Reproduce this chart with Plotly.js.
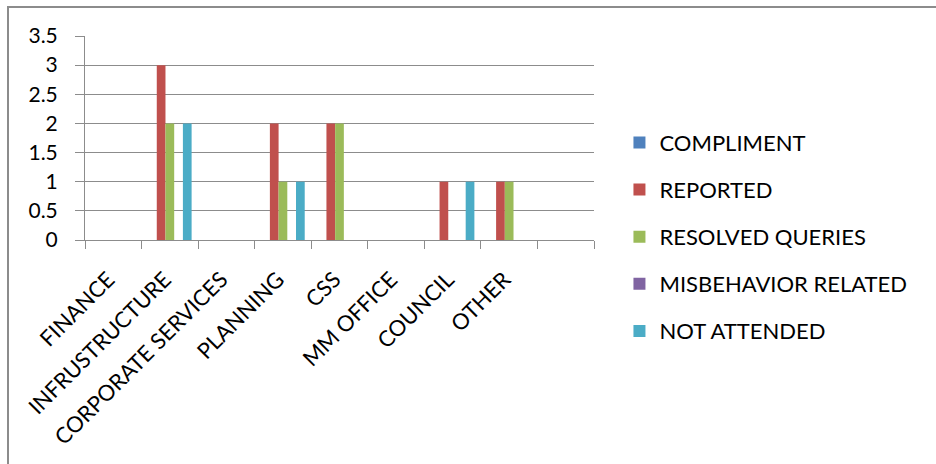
<!DOCTYPE html>
<html>
<head>
<meta charset="utf-8">
<script src="https://cdn.plot.ly/plotly-3.0.1.min.js"></script>
<style>
  html, body { margin: 0; padding: 0; background: #fff; }
  #wrap { position: relative; width: 936px; height: 464px; overflow: hidden; }
  #chart { position: absolute; left: 0; top: 0; width: 936px; height: 464px; }
  #frame { position: absolute; left: 7px; top: 6px; width: 960px; height: 480px;
           border: 2px solid #8c8c8c; box-sizing: border-box; pointer-events: none; }
</style>
</head>
<body>
<div id="wrap">
  <div id="chart"></div>
  <div id="frame"></div>
</div>
<script>
const categories = ["FINANCE", "INFRUSTRUCTURE", "CORPORATE SERVICES", "PLANNING", "CSS", "MM OFFICE", "COUNCIL", "OTHER", " "];
const seriesNames = ["COMPLIMENT", "REPORTED", "RESOLVED QUERIES", "MISBEHAVIOR RELATED", "NOT ATTENDED"];
const compliment  = [0, 0, 0, 0, 0, 0, 0, 0, 0];
const reported    = [0, 3, 0, 2, 2, 0, 1, 1, 0];
const resolved    = [0, 2, 0, 1, 2, 0, 0, 1, 0];
const misbehavior = [0, 0, 0, 0, 0, 0, 0, 0, 0];
const notAttended = [0, 2, 0, 1, 0, 0, 1, 0, 0];
const seriesColors = ["#4F81BD", "#C0504D", "#9BBB59", "#8064A2", "#4BACC6"];

const values = [compliment, reported, resolved, misbehavior, notAttended];
const font = "Lato, 'Open Sans', sans-serif";

const data = values.map((v, i) => ({
  type: "bar",
  name: seriesNames[i],
  x: categories,
  y: v,
  marker: { color: seriesColors[i], line: { width: 0 } },
  legendgroup: "g" + i,
  hoverinfo: "x+y+name"
}));

const layout = {
  width: 936,
  height: 464,
  margin: { l: 85, r: 342, t: 36, b: 224, pad: 0 },
  paper_bgcolor: "#ffffff",
  plot_bgcolor: "#ffffff",
  barmode: "group",
  bargap: 0.23,
  bargroupgap: 0,
  font: { family: font, color: "#000000", size: 21 },
  xaxis: {
    type: "category",
    categoryorder: "array",
    categoryarray: categories,
    tickangle: -45,
    ticks: "outside",
    tickson: "boundaries",
    ticklen: 8,
    tickcolor: "#8c8c8c",
    tickwidth: 1,
    showgrid: false,
    showline: true,
    linecolor: "#8c8c8c",
    linewidth: 1,
    ticklabelstandoff: 17,
    ticklabelshift: -5,
    tickfont: { family: font, size: 22, color: "#000" },
    automargin: false,
    fixedrange: true
  },
  yaxis: {
    range: [0, 3.5],
    dtick: 0.5,
    tick0: 0,
    ticks: "outside",
    ticklen: 9,
    tickcolor: "#8c8c8c",
    tickwidth: 1,
    showgrid: true,
    gridcolor: "#8c8c8c",
    gridwidth: 1,
    showline: true,
    linecolor: "#8c8c8c",
    linewidth: 1,
    zeroline: false,
    ticklabelstandoff: 13,
    tickfont: { family: font, size: 21, color: "#000" },
    automargin: false,
    fixedrange: true
  },
  showlegend: true,
  legend: {
    x: 1.05,
    xanchor: "left",
    y: 0.58,
    yanchor: "top",
    traceorder: "grouped",
    tracegroupgap: 15.5,
    maxheight: 420,
    font: { family: font, size: 22, color: "#000" },
    bgcolor: "rgba(0,0,0,0)",
    borderwidth: 0
  }
};

Plotly.newPlot("chart", data, layout, { displayModeBar: false, staticPlot: true });
</script>
</body>
</html>
